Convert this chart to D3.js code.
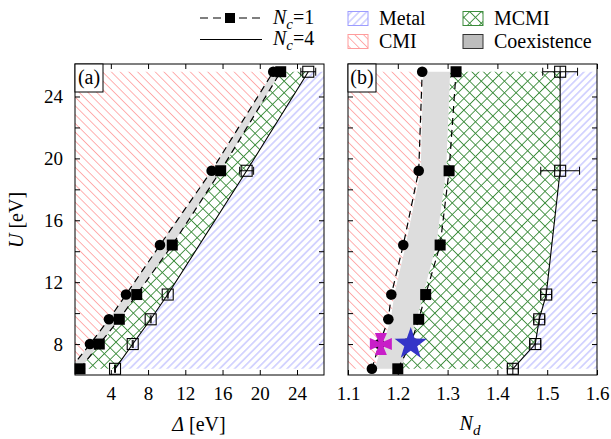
<!DOCTYPE html>
<html>
<head>
<meta charset="utf-8">
<script src="https://cdn.jsdelivr.net/npm/d3@7"></script>
<style>
  body { margin: 0; background: #fff; }
  text { font-family: "Liberation Serif", "DejaVu Serif", serif; fill: #000; }
</style>
</head>
<body>
<svg id="chart" width="611" height="439"></svg>
<script>
// ---- data ----
var uLevels = [6.4, 8, 9.6, 11.2, 14.4, 19.2, 25.6];
var uOpen = [6.4, 8, 9.6, 11.2, 19.2, 25.6];

// panel (a): Delta [eV]
var aCircle = [-0.35, 1.76, 3.80, 5.63, 9.28, 14.83, 21.45];
var aSquare = [0.69, 2.76, 4.91, 6.78, 10.60, 15.80, 22.25];
var aOpen = [4.45, 6.35, 8.28, 10.11, 18.59, 25.21];
var aOpenErr = [0.05, 0.05, 0.05, 0.05, 0.75, 0.80];

// panel (b): N_d
var bCircle = [1.148, 1.163, 1.181, 1.187, 1.211, 1.242, 1.249];
var bSquare = [1.200, 1.226, 1.242, 1.256, 1.285, 1.303, 1.317];
var bBandLeft = [1.153, 1.170, 1.186, 1.193, 1.216, 1.246, 1.251];
var bBandRight = [1.207, 1.222, 1.238, 1.251, 1.277, 1.297, 1.305];
var bOpen = [1.431, 1.476, 1.484, 1.498, 1.526, 1.526];
var bOpenErr = [0.011, 0.011, 0.011, 0.011, 0.039, 0.035];
var crossPoint = [1.166, 8];
var starPoint = [1.226, 8];

var aTicksX = [4, 8, 12, 16, 20, 24];
var bTicksX = [1.1, 1.2, 1.3, 1.4, 1.5, 1.6];
var yTicks = [8, 10, 12, 14, 16, 18, 20, 22, 24];

var colMetal = "#9c9cff", colCMI = "#ff9c9c", colMCMI = "#3c8c3c";

var svg = d3.select("#chart");
var defs = svg.append("defs");

function hatch(id, color, angle, gap, sw) {
  var p = defs.append("pattern").attr("id", id)
    .attr("patternUnits", "userSpaceOnUse")
    .attr("width", gap).attr("height", gap)
    .attr("patternTransform", `rotate(${angle})`);
  p.append("line").attr("x1", gap / 2).attr("y1", 0).attr("x2", gap / 2).attr("y2", gap)
    .attr("stroke", color).attr("stroke-width", sw);
  return p;
}
hatch("metal", colMetal, 45, 5.3, 0.8);
hatch("cmi", colCMI, -45, 6.2, 0.8);
var cross = hatch("mcmi", colMCMI, 45, 8.2, 0.9);
cross.append("line").attr("x1", 0).attr("y1", 4.1).attr("x2", 8.2).attr("y2", 4.1)
  .attr("stroke", colMCMI).attr("stroke-width", 0.9);

var y = d3.scaleLinear().domain([6, 26.1]).range([375, 64]);

function panel(opt) {
  var x = opt.x;
  var x0 = x.range()[0], x1 = x.range()[1];
  var g = svg.append("g");
  var clipId = "clip" + opt.name;
  defs.append("clipPath").attr("id", clipId).append("rect")
    .attr("x", x0).attr("y", 64).attr("width", x1 - x0).attr("height", 311);
  var area = g.append("g").attr("clip-path", `url(#${clipId})`);
  var dmin = x.domain()[0], dmax = x.domain()[1];
  var uLo = uLevels[0], uHi = uLevels[uLevels.length - 1];

  function pts(vals, us) { return vals.map((v, i) => [x(v), y(us[i])]); }
  var poly = d3.line();

  var leftB = pts(opt.bandL, uLevels);
  var rightB = pts(opt.bandR, uLevels);
  var openB = pts(opt.open, uOpen);

  // CMI region
  area.append("path")
    .attr("d", poly([[x(dmin) - 5, y(uLo)]].concat(leftB, [[x(dmin) - 5, y(uHi)]])) + "Z")
    .attr("fill", "url(#cmi)");
  // MCMI region
  area.append("path")
    .attr("d", poly(rightB.concat(openB.slice().reverse())) + "Z")
    .attr("fill", "url(#mcmi)");
  // Metal region
  area.append("path")
    .attr("d", poly(openB.concat([[x(dmax) + 5, y(uHi)], [x(dmax) + 5, y(uLo)]])) + "Z")
    .attr("fill", "url(#metal)");
  // coexistence
  area.append("path")
    .attr("d", poly(leftB.concat(rightB.slice().reverse())) + "Z")
    .attr("fill", "#dddddd");

  // boundary lines
  area.append("path").attr("d", poly(pts(opt.circle, uLevels)))
    .attr("fill", "none").attr("stroke", "#000").attr("stroke-width", 1.2).attr("stroke-dasharray", "7,5");
  area.append("path").attr("d", poly(pts(opt.square, uLevels)))
    .attr("fill", "none").attr("stroke", "#000").attr("stroke-width", 1.2).attr("stroke-dasharray", "7,5");
  area.append("path").attr("d", poly(openB))
    .attr("fill", "none").attr("stroke", "#000").attr("stroke-width", 1.1);

  // markers
  var inside = (v) => v >= dmin && v <= dmax;
  g.selectAll(".circ").data(opt.circle.map((v, i) => [v, uLevels[i]]).filter(d => inside(d[0])))
    .enter().append("circle")
    .attr("cx", d => x(d[0])).attr("cy", d => y(d[1])).attr("r", 5.3).attr("fill", "#000");
  g.selectAll(".sq").data(opt.square.map((v, i) => [v, uLevels[i]]).filter(d => inside(d[0])))
    .enter().append("rect")
    .attr("x", d => x(d[0]) - 5.5).attr("y", d => y(d[1]) - 5.5)
    .attr("width", 11).attr("height", 11).attr("fill", "#000");

  var openG = g.selectAll(".op").data(opt.open.map((v, i) => [v, uOpen[i], opt.err[i]]))
    .enter().append("g");
  openG.append("rect")
    .attr("x", d => x(d[0]) - 5.5).attr("y", d => y(d[1]) - 5.5)
    .attr("width", 11).attr("height", 11).attr("fill", "none")
    .attr("stroke", "#000").attr("stroke-width", 1.1);
  openG.append("path")
    .attr("d", d => {
      var xl = x(d[0] - d[2]), xr = x(d[0] + d[2]), yy = y(d[1]);
      return `M${xl},${yy}H${xr}M${xl},${yy - 4}V${yy + 4}M${xr},${yy - 4}V${yy + 4}`;
    })
    .attr("fill", "none").attr("stroke", "#000").attr("stroke-width", 1);
  if (opt.name === "b") {
    openG.append("path")
      .attr("d", d => `M${x(d[0])},${y(d[1]) - 5.5}V${y(d[1]) + 5.5}`)
      .attr("stroke", "#000").attr("stroke-width", 1);
  }

  if (opt.extra) opt.extra(g, x);

  // frame and inward ticks
  g.append("rect").attr("x", x0).attr("y", 64).attr("width", x1 - x0).attr("height", 311)
    .attr("fill", "none").attr("stroke", "#000").attr("stroke-width", 1);

  var fmtY = opt.yLabels ? (d => d % 4 === 0 ? d : "") : (() => "");
  var axes = [
    [d3.axisBottom(x).tickValues(opt.ticksX).tickFormat(opt.fmtX), `translate(0,375)`],
    [d3.axisTop(x).tickValues(opt.ticksX).tickFormat(""), `translate(0,64)`],
    [d3.axisLeft(y).tickValues(yTicks).tickFormat(fmtY), `translate(${x0},0)`],
    [d3.axisRight(y).tickValues(yTicks).tickFormat(""), `translate(${x1},0)`]
  ];
  axes.forEach(function(a) {
    var ax = g.append("g").attr("transform", a[1])
      .call(a[0].tickSizeInner(-5).tickSizeOuter(0).tickPadding(12));
    ax.select(".domain").remove();
    ax.selectAll("text").style("font-family", "Liberation Serif, serif").style("font-size", "19px");
  });

  // panel label
  g.append("rect").attr("x", x0).attr("y", 64).attr("width", 28).attr("height", 28)
    .attr("fill", "#fff").attr("stroke", "#000").attr("stroke-width", 1);
  g.append("text").attr("x", x0 + 14).attr("y", 84).attr("text-anchor", "middle")
    .style("font-size", "20px").text(opt.label);
}

var xA = d3.scaleLinear().domain([0.15, 26.9]).range([75, 324]);
var xB = d3.scaleLinear().domain([1.1, 1.6]).range([348, 597]);

panel({
  name: "a", x: xA, label: "(a)", ticksX: aTicksX, fmtX: d3.format("d"), yLabels: true,
  circle: aCircle, square: aSquare, bandL: aCircle, bandR: aSquare,
  open: aOpen, err: aOpenErr
});

panel({
  name: "b", x: xB, label: "(b)", ticksX: bTicksX, fmtX: d3.format(".1f"), yLabels: false,
  circle: bCircle, square: bSquare, bandL: bBandLeft, bandR: bBandRight,
  open: bOpen, err: bOpenErr,
  extra: function(g, x) {
    // magenta cross marker
    var cx = x(crossPoint[0]), cy = y(crossPoint[1]);
    var R = 11, W = 6, w = 1.4, d = "";
    [0, 90, 180, 270].forEach(function(a) {
      var t = a * Math.PI / 180, c = Math.cos(t), s = Math.sin(t);
      var p = [[0, -w], [R, -W], [R, W], [0, w]].map(q => [cx + q[0] * c - q[1] * s, cy + q[0] * s + q[1] * c]);
      d += "M" + p.join("L") + "Z";
    });
    g.append("path").attr("d", d).attr("fill", "#c81ec8");
    // blue star
    var sx = x(starPoint[0]), sy = y(starPoint[1]);
    var star = d3.range(10).map(function(i) {
      var r = i % 2 === 0 ? 17 : 6.8, t = -Math.PI / 2 + i * Math.PI / 5;
      return [sx + r * Math.cos(t), sy + r * Math.sin(t)];
    });
    g.append("path").attr("d", d3.line()(star) + "Z").attr("fill", "#3434c8");
  }
});

// axis titles
svg.append("text").attr("x", 199).attr("y", 431).attr("text-anchor", "middle").style("font-size", "20px")
  .html('<tspan font-style="italic">Δ</tspan> [eV]');
svg.append("text").attr("x", 470).attr("y", 430).attr("text-anchor", "middle").style("font-size", "20px")
  .html('<tspan font-style="italic">N</tspan><tspan font-style="italic" font-size="15px" dy="5">d</tspan>');
svg.append("text").attr("transform", "translate(23,220) rotate(-90)").attr("text-anchor", "middle")
  .style("font-size", "20px")
  .html('<tspan font-style="italic">U</tspan> [eV]');

// legend
var leg = svg.append("g");
leg.append("line").attr("x1", 200).attr("x2", 260).attr("y1", 18).attr("y2", 18)
  .attr("stroke", "#000").attr("stroke-width", 1.2).attr("stroke-dasharray", "8,5");
leg.append("rect").attr("x", 225).attr("y", 13).attr("width", 10).attr("height", 10).attr("fill", "#000");
leg.append("line").attr("x1", 200).attr("x2", 262).attr("y1", 39.5).attr("y2", 39.5)
  .attr("stroke", "#000").attr("stroke-width", 1.1);
[["1", 23.5], ["4", 44.5]].forEach(function(r) {
  leg.append("text").attr("x", 273).attr("y", r[1]).style("font-size", "20px")
    .html(`<tspan font-style="italic">N</tspan><tspan font-style="italic" font-size="15px" dy="5">c</tspan><tspan dy="-5">=${r[0]}</tspan>`);
});
var swatches = [
  ["Metal", 348, 11.5, "url(#metal)", colMetal],
  ["CMI", 348, 34.5, "url(#cmi)", colCMI],
  ["MCMI", 463, 11.5, "url(#mcmi)", colMCMI],
  ["Coexistence", 463, 34.5, "#bdbdbd", "#333"]
];
swatches.forEach(function(s) {
  leg.append("rect").attr("x", s[1]).attr("y", s[2]).attr("width", 20).attr("height", 14)
    .attr("fill", "#fff");
  leg.append("rect").attr("x", s[1]).attr("y", s[2]).attr("width", 20).attr("height", 14)
    .attr("fill", s[3]).attr("stroke", s[4]).attr("stroke-width", 1);
  leg.append("text").attr("x", s[1] + 31).attr("y", s[2] + 13.5).style("font-size", "20px").text(s[0]);
});
</script>
</body>
</html>
